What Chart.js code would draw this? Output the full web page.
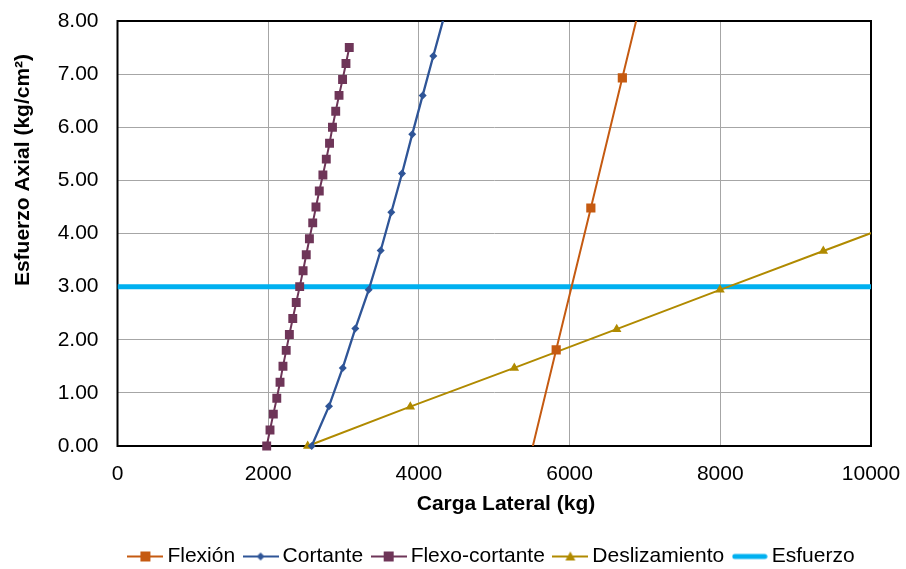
<!DOCTYPE html>
<html lang="es">
<head>
  <meta charset="UTF-8" />
  <title>Carga Lateral vs Esfuerzo Axial</title>
  <style>
    body { margin: 0; background: #ffffff; }
    canvas { display: block; }
  </style>
</head>
<body>
  <canvas id="grafico" width="906" height="569"></canvas>

  <script src="https://cdn.jsdelivr.net/npm/chart.js"></script>
  <script>
    // valores (x en kg, y en kg/cm²)
    const flexionX = [5384, 5822, 6282, 6700, 7138];
    const flexionY = [-0.75, 1.81, 4.48, 6.93, 9.49];

    const cortanteX = [2577, 2807, 2989, 3156, 3334, 3493, 3634, 3776, 3912, 4050, 4191, 4332];
    const cortanteY = [0, 0.75, 1.47, 2.21, 2.94, 3.68, 4.40, 5.13, 5.87, 6.60, 7.34, 8.07];

    const flexoX = [1980, 2024, 2068, 2114, 2157, 2196, 2239, 2281, 2326, 2372, 2418, 2463, 2505,
                    2547, 2591, 2634, 2678, 2726, 2771, 2814, 2853, 2896, 2940, 2987, 3032, 3076];
    const flexoY = [0, 0.3, 0.6, 0.9, 1.2, 1.5, 1.8, 2.1, 2.4, 2.7, 3.0, 3.3, 3.6,
                    3.9, 4.2, 4.5, 4.8, 5.1, 5.4, 5.7, 6.0, 6.3, 6.6, 6.9, 7.2, 7.5];

    const deslizX = [2524, 3886, 5266, 6625, 7996, 9367, 10738];
    const deslizY = [0, 0.74, 1.47, 2.20, 2.94, 3.67, 4.40];

    const esfuerzoX = [0, 10000];
    const esfuerzoY = [3, 3];

    const seriesNames = ["Flexión", "Cortante", "Flexo-cortante", "Deslizamiento", "Esfuerzo"];
    const xTicks = [0, 2000, 4000, 6000, 8000, 10000];
    const yTicks = [0, 1, 2, 3, 4, 5, 6, 7, 8];

    const FONT = "'Liberation Sans', Arial, sans-serif";
    Chart.defaults.font.family = FONT;
    Chart.defaults.color = "#000";

    const pts = (xs, ys) => xs.map((x, i) => ({ x: x, y: ys[i] }));
    // sin marcador para los puntos fuera del área
    const radio = r => ctx => {
      const p = ctx.raw;
      return (p && (p.y < 0 || p.y > 8 || p.x > 10000)) ? 0 : r;
    };

    function icono(color, ancho, marca) {
      const c = document.createElement("canvas");
      c.width = 36; c.height = 14;
      const g = c.getContext("2d");
      g.strokeStyle = color; g.fillStyle = color;
      g.lineWidth = ancho; g.lineCap = marca ? "butt" : "round";
      g.beginPath();
      g.moveTo(marca ? 0 : 3, 7); g.lineTo(marca ? 36 : 33, 7); g.stroke();
      if (marca === "cuadro") g.fillRect(13, 2, 10, 10);
      if (marca === "rombo") {
        g.beginPath(); g.moveTo(18, 3); g.lineTo(22, 7); g.lineTo(18, 11); g.lineTo(14, 7); g.fill();
      }
      if (marca === "triangulo") {
        g.beginPath(); g.moveTo(18, 2); g.lineTo(23, 11); g.lineTo(13, 11); g.fill();
      }
      return c;
    }

    const colores = ["#C55A11", "#2F5597", "#6E3558", "#B08A00", "#00B0F0"];
    const iconos = [
      icono(colores[0], 2, "cuadro"),
      icono(colores[1], 2, "rombo"),
      icono(colores[2], 2, "cuadro"),
      icono(colores[3], 2, "triangulo"),
      icono(colores[4], 5, null)
    ];

    const marco = {
      id: "marco",
      afterLayout(chart) {
        // leyenda centrada bajo el área del gráfico
        const lg = chart.legend;
        const a = chart.chartArea;
        const dx = (a.left + a.right) / 2 - (lg.left + lg.right) / 2;
        lg.left += dx; lg.right += dx;
        const h = lg.height;
        lg.top = 532; lg.bottom = lg.top + h;
      },
      beforeDatasetsDraw(chart) {
        const { ctx, chartArea: a } = chart;
        ctx.save();
        ctx.strokeStyle = "#000";
        ctx.lineWidth = 2;
        ctx.strokeRect(a.left, a.top, a.right - a.left, a.bottom - a.top);
        ctx.restore();
      },
      afterDraw(chart) {
        const ctx = chart.ctx;
        ctx.save();
        ctx.fillStyle = "#000";
        ctx.font = "bold 21px " + FONT;
        ctx.textAlign = "center";
        ctx.textBaseline = "alphabetic";
        ctx.fillText("Carga Lateral (kg)", 506, 510);
        ctx.translate(28.5, 170);
        ctx.rotate(-Math.PI / 2);
        ctx.fillText("Esfuerzo Axial (kg/cm²)", 0, 0);
        ctx.restore();
      }
    };

    new Chart(document.getElementById("grafico"), {
      type: "scatter",
      data: {
        datasets: [
          {
            label: seriesNames[0], data: pts(flexionX, flexionY), showLine: true,
            borderColor: colores[0], backgroundColor: colores[0], borderWidth: 2,
            pointStyle: "rect", pointRadius: radio(6.5), pointBorderWidth: 0, clip: 0
          },
          {
            label: seriesNames[1], data: pts(cortanteX, cortanteY), showLine: true,
            borderColor: colores[1], backgroundColor: colores[1], borderWidth: 2.3,
            pointStyle: "rectRot", pointRadius: radio(4), pointBorderWidth: 0,
            clip: { left: 8, top: 0, right: 0, bottom: 8 }
          },
          {
            label: seriesNames[2], data: pts(flexoX, flexoY), showLine: true,
            borderColor: colores[2], backgroundColor: colores[2], borderWidth: 2,
            pointStyle: "rect", pointRadius: radio(6.3), pointBorderWidth: 0, clip: 8
          },
          {
            label: seriesNames[3], data: pts(deslizX, deslizY), showLine: true,
            borderColor: colores[3], backgroundColor: colores[3], borderWidth: 2,
            pointStyle: "triangle", pointRadius: radio(5.5), pointBorderWidth: 0,
            clip: { left: 8, top: 0, right: 0, bottom: 8 }
          },
          {
            label: seriesNames[4], data: pts(esfuerzoX, esfuerzoY), showLine: true,
            borderColor: colores[4], backgroundColor: colores[4], borderWidth: 5,
            pointRadius: 0, clip: 0
          }
        ]
      },
      options: {
        responsive: false,
        animation: false,
        events: [],
        layout: { padding: { left: 0, right: 35, top: 21, bottom: 0 } },
        scales: {
          x: {
            type: "linear", min: 0, max: 10000,
            afterBuildTicks: s => { s.ticks = xTicks.map(v => ({ value: v })); },
            afterFit: s => {
              s.height = 123 - s.chart.legend.height;
              s.paddingLeft = 0; s.paddingRight = 0;
            },
            ticks: { padding: 16, font: { size: 21 }, color: "#000", callback: v => String(v) },
            grid: { color: "#A6A6A6", lineWidth: 1, drawTicks: false },
            border: { display: false }
          },
          y: {
            min: 0, max: 8,
            afterBuildTicks: s => { s.ticks = yTicks.map(v => ({ value: v })); },
            afterFit: s => {
              s.width = 117.5;
              s.paddingTop = 0; s.paddingBottom = 0;
            },
            ticks: { padding: 19, font: { size: 21 }, color: "#000", callback: v => v.toFixed(2) },
            grid: { color: "#A6A6A6", lineWidth: 1, drawTicks: false },
            border: { display: false }
          }
        },
        plugins: {
          tooltip: { enabled: false },
          legend: {
            position: "bottom",
            labels: {
              usePointStyle: true,
              pointStyleWidth: 23,
              padding: 14,
              color: "#000",
              font: { size: 21 },
              generateLabels(chart) {
                const items = Chart.defaults.plugins.legend.labels.generateLabels(chart);
                items.forEach((it, i) => { it.pointStyle = iconos[i]; });
                return items;
              }
            }
          }
        }
      },
      plugins: [marco]
    });
  </script>
</body>
</html>
